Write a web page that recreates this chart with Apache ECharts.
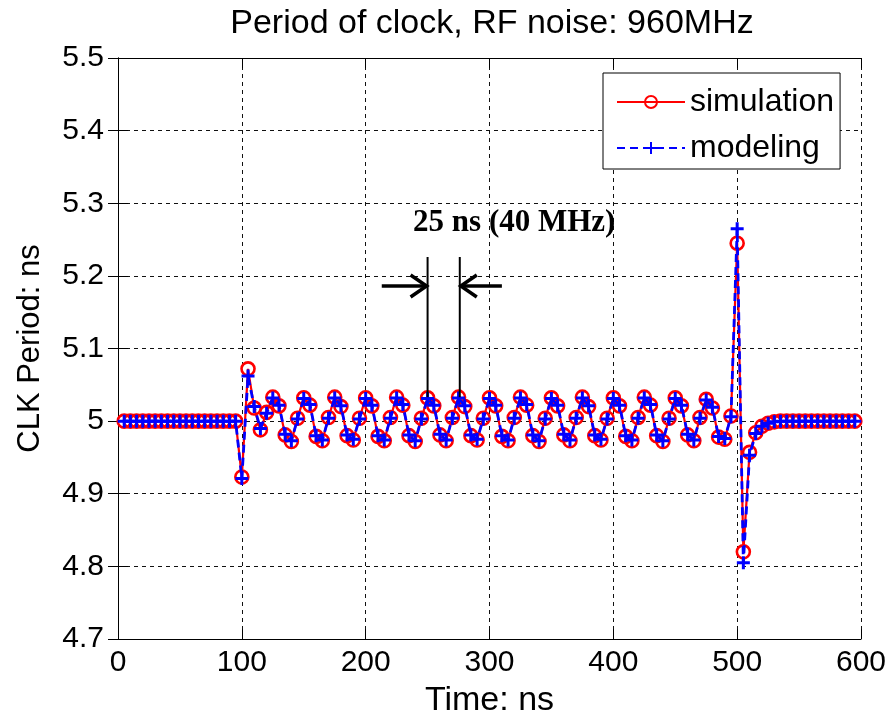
<!DOCTYPE html>
<html>
<head>
<meta charset="utf-8">
<script src="https://cdn.jsdelivr.net/npm/echarts@6/dist/echarts.min.js"></script>
<style>
  html, body { margin: 0; padding: 0; background: #fff; }
  #chart { width: 896px; height: 723px; }
</style>
</head>
<body>
<div id="chart"></div>
<script>
// Clock edge times (ns)
const timeNs = [
  5, 10, 15, 20, 25, 30, 35, 40, 45, 50, 55, 60, 65, 70, 75, 80, 85, 90, 95,
  100, 105, 110, 115, 120,
  125, 130, 135, 140, 145, 150, 155, 160, 165, 170, 175, 180, 185, 190, 195,
  200, 205, 210, 215, 220, 225, 230, 235, 240, 245, 250, 255, 260, 265, 270,
  275, 280, 285, 290, 295, 300, 305, 310, 315, 320, 325, 330, 335, 340, 345,
  350, 355, 360, 365, 370, 375, 380, 385, 390, 395, 400, 405, 410, 415, 420,
  425, 430, 435, 440, 445, 450, 455, 460, 465, 470, 475, 480, 485, 490, 495,
  500, 505, 510, 515, 520, 525, 530,
  535, 540, 545, 550, 555, 560, 565, 570, 575, 580, 585, 590, 595
];

// Clock period from transistor-level simulation (ns)
const simulation = [
  5.000, 5.000, 5.000, 5.000, 5.000, 5.000, 5.000, 5.000, 5.000, 5.000,
  5.000, 5.000, 5.000, 5.000, 5.000, 5.000, 5.000, 5.000, 5.000,
  4.923, 5.072, 5.018, 4.988, 5.012,
  5.033, 5.021, 4.981, 4.972, 5.004,
  5.032, 5.022, 4.979, 4.973, 5.005,
  5.033, 5.020, 4.980, 4.974, 5.004,
  5.032, 5.021, 4.979, 4.973, 5.005,
  5.033, 5.022, 4.980, 4.972, 5.004,
  5.032, 5.021, 4.981, 4.973, 5.005,
  5.033, 5.020, 4.980, 4.974, 5.004,
  5.032, 5.021, 4.979, 4.973, 5.005,
  5.033, 5.022, 4.980, 4.972, 5.004,
  5.032, 5.021, 4.981, 4.973, 5.005,
  5.033, 5.020, 4.980, 4.974, 5.004,
  5.032, 5.021, 4.979, 4.973, 5.005,
  5.033, 5.022, 4.980, 4.972, 5.004,
  5.032, 5.021, 4.981, 4.973, 5.005,
  5.030, 5.018, 4.978, 4.975, 5.007,
  5.245, 4.820, 4.957, 4.984, 4.993, 4.997, 4.999,
  5.000, 5.000, 5.000, 5.000, 5.000, 5.000, 5.000, 5.000, 5.000, 5.000,
  5.000, 5.000, 5.000
];

// Clock period from the behavioural model (ns)
const modeling = [
  5.000, 5.000, 5.000, 5.000, 5.000, 5.000, 5.000, 5.000, 5.000, 5.000,
  5.000, 5.000, 5.000, 5.000, 5.000, 5.000, 5.000, 5.000, 5.000,
  4.921, 5.062, 5.020, 4.990, 5.011,
  5.032, 5.022, 4.982, 4.973, 5.003,
  5.031, 5.023, 4.980, 4.974, 5.004,
  5.032, 5.021, 4.981, 4.975, 5.003,
  5.031, 5.022, 4.980, 4.974, 5.004,
  5.032, 5.023, 4.981, 4.973, 5.003,
  5.031, 5.022, 4.982, 4.974, 5.004,
  5.032, 5.021, 4.981, 4.975, 5.003,
  5.031, 5.022, 4.980, 4.974, 5.004,
  5.032, 5.023, 4.981, 4.973, 5.003,
  5.031, 5.022, 4.982, 4.974, 5.004,
  5.032, 5.021, 4.981, 4.975, 5.003,
  5.031, 5.022, 4.980, 4.974, 5.004,
  5.032, 5.023, 4.981, 4.973, 5.003,
  5.031, 5.022, 4.982, 4.974, 5.004,
  5.029, 5.019, 4.979, 4.976, 5.006,
  5.265, 4.805, 4.953, 4.983, 4.993, 4.997, 4.999,
  5.000, 5.000, 5.000, 5.000, 5.000, 5.000, 5.000, 5.000, 5.000, 5.000,
  5.000, 5.000, 5.000
];

// Axis tick values
const xTicks = [0, 100, 200, 300, 400, 500, 600];
const yTicks = [4.7, 4.8, 4.9, 5.0, 5.1, 5.2, 5.3, 5.4, 5.5];

const seriesNames = ['simulation', 'modeling'];
const annotationText = '25 ns (40 MHz)';

const FONT = '"Liberation Sans", Arial, sans-serif';
const xMin = xTicks[0], xMax = xTicks[xTicks.length - 1], xStep = xTicks[1] - xTicks[0];
const yMin = yTicks[0], yMax = yTicks[yTicks.length - 1];
const yStep = Math.round((yTicks[1] - yTicks[0]) * 1000) / 1000;

const simPoints = timeNs.map((t, i) => [t, simulation[i]]);
const modPoints = timeNs.map((t, i) => [t, modeling[i]]);

const chart = echarts.init(document.getElementById('chart'), null, { renderer: 'canvas' });

const tickStyle = { show: true, inside: true, length: 10, lineStyle: { color: '#000', width: 1 } };
const axisLineStyle = { show: true, lineStyle: { color: '#000', width: 1 } };
const gridLine = { show: true, lineStyle: { color: '#111', width: 1, type: [4, 4] } };

const option = {
  animation: false,
  backgroundColor: '#fff',
  title: {
    text: 'Period of clock, RF noise: 960MHz',
    left: 487, top: 2, textAlign: 'center',
    textStyle: { fontFamily: FONT, fontSize: 34, fontWeight: 'normal', color: '#000' }
  },
  grid: { left: 118, right: 35, top: 58, bottom: 84, containLabel: false },
  legend: {
    data: seriesNames,
    orient: 'vertical',
    left: 603, top: 73,
    backgroundColor: '#fff',
    borderColor: '#000', borderWidth: 1, borderRadius: 0,
    padding: [12, 6, 4, 13],
    itemWidth: 68, itemHeight: 15, itemGap: 12,
    textStyle: { fontFamily: FONT, fontSize: 32, color: '#000', lineHeight: 34, padding: [0, 0, 0, 0] },
    selectedMode: false
  },
  xAxis: [{
    type: 'value', min: xMin, max: xMax, interval: xStep,
    name: 'Time: ns', nameLocation: 'middle', nameGap: 45,
    nameTextStyle: { fontFamily: FONT, fontSize: 34, color: '#000' },
    axisLine: axisLineStyle, axisTick: tickStyle, splitLine: gridLine,
    axisLabel: { fontFamily: FONT, fontSize: 30, color: '#000', margin: 9 }
  }, {
    type: 'value', position: 'top', min: xMin, max: xMax, interval: xStep,
    axisLine: axisLineStyle, axisTick: tickStyle, splitLine: { show: false },
    axisLabel: { show: false }
  }],
  yAxis: [{
    type: 'value', min: yMin, max: yMax, interval: yStep,
    name: 'CLK Period: ns', nameLocation: 'middle', nameGap: 72,
    nameTextStyle: { fontFamily: FONT, fontSize: 31, color: '#000' },
    axisLine: axisLineStyle, axisTick: tickStyle, splitLine: gridLine,
    axisLabel: {
      fontFamily: FONT, fontSize: 30, color: '#000', margin: 14,
      formatter: v => String(Math.round(v * 10) / 10)
    }
  }, {
    type: 'value', position: 'right', min: yMin, max: yMax, interval: yStep,
    axisLine: axisLineStyle, axisTick: tickStyle, splitLine: { show: false },
    axisLabel: { show: false }
  }],
  series: [{
    name: seriesNames[0],
    type: 'line',
    data: simPoints,
    xAxisIndex: 0, yAxisIndex: 0,
    symbol: 'circle', symbolSize: 13, showAllSymbol: true,
    lineStyle: { color: '#ff0000', width: 2.2 },
    itemStyle: { color: 'rgba(255,255,255,0)', borderColor: '#ff0000', borderWidth: 2.6 },
    emphasis: { disabled: true },
    z: 2
  }, {
    name: seriesNames[1],
    type: 'line',
    data: modPoints,
    xAxisIndex: 0, yAxisIndex: 0,
    symbol: 'path://M5,0L5,10M0,5L10,5', symbolSize: 13, showAllSymbol: true,
    lineStyle: { color: '#0000ff', width: 2.8, type: [8, 5] },
    itemStyle: { color: '#0000ff', borderColor: '#0000ff', borderWidth: 3 },
    emphasis: { disabled: true },
    z: 3
  }]
};

chart.setOption(option);

// Period annotation: two markers at successive peaks with converging arrows
function px(t, v) { return chart.convertToPixel({ xAxisIndex: 0, yAxisIndex: 0 }, [t, v]); }
const leftMark = 250, rightMark = 276;
const lineTop = 5.226, lineBottom = 5.033, arrowLevel = 5.186;
const aL = px(leftMark, arrowLevel), aR = px(rightMark, arrowLevel);
const tailL = px(213, arrowLevel), tailR = px(310, arrowLevel);
const topL = px(leftMark, lineTop), botL = px(leftMark, lineBottom);
const topR = px(rightMark, lineTop), botR = px(rightMark, lineBottom);
const labelPos = px(320, 5.273);
const stroke = { stroke: '#000', lineWidth: 3.5, lineCap: 'butt', lineJoin: 'miter' };

chart.setOption({
  graphic: [
    { type: 'line', z: 50, shape: { x1: topL[0], y1: topL[1], x2: botL[0], y2: botL[1] }, style: { stroke: '#000', lineWidth: 2 } },
    { type: 'line', z: 50, shape: { x1: topR[0], y1: topR[1], x2: botR[0], y2: botR[1] }, style: { stroke: '#000', lineWidth: 2 } },
    { type: 'line', z: 50, shape: { x1: tailL[0], y1: tailL[1], x2: aL[0] - 1, y2: aL[1] }, style: stroke },
    { type: 'polyline', z: 50, shape: { points: [[aL[0] - 17, aL[1] - 11], [aL[0] - 1, aL[1]], [aL[0] - 17, aL[1] + 11]] }, style: Object.assign({ fill: null }, stroke) },
    { type: 'line', z: 50, shape: { x1: tailR[0], y1: tailR[1], x2: aR[0] + 1, y2: aR[1] }, style: stroke },
    { type: 'polyline', z: 50, shape: { points: [[aR[0] + 17, aR[1] - 11], [aR[0] + 1, aR[1]], [aR[0] + 17, aR[1] + 11]] }, style: Object.assign({ fill: null }, stroke) },
    {
      type: 'text', z: 50,
      x: labelPos[0], y: labelPos[1],
      style: {
        text: annotationText,
        font: 'bold 31px "Liberation Serif", "Times New Roman", serif',
        fill: '#000', align: 'center', verticalAlign: 'middle'
      }
    }
  ]
});
</script>
</body>
</html>
